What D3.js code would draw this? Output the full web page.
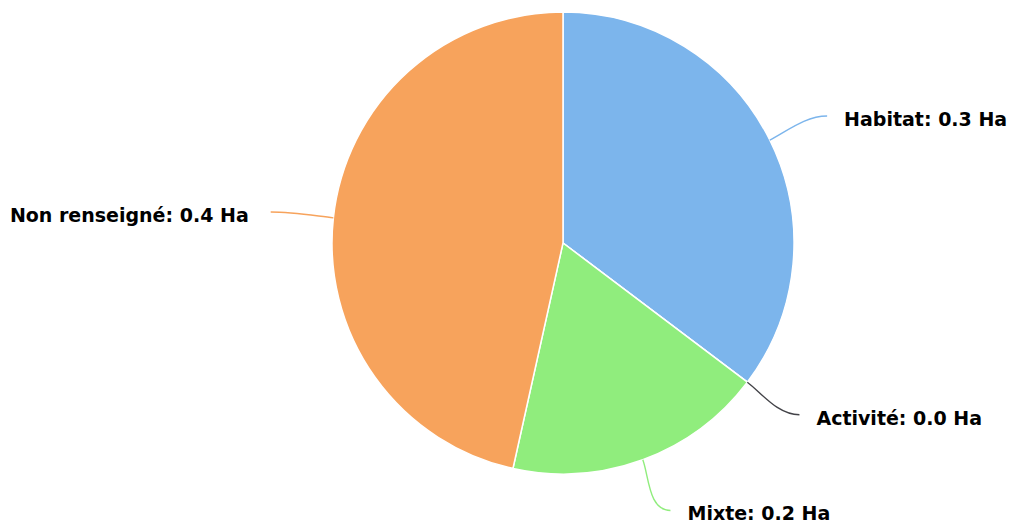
<!DOCTYPE html>
<html>
<head>
<meta charset="utf-8">
<script src="https://cdn.jsdelivr.net/npm/d3@7"></script>
<style>
  body { margin: 0; background: #fff; }
  svg { display: block; font-family: "DejaVu Sans", sans-serif; }
</style>
</head>
<body>
<svg id="chart"></svg>
<script>
const categories = ["Habitat", "Activité", "Mixte", "Non renseigné"]
const values = [0.33, 0, 0.17, 0.435]
const colours = ["#7cb5ec", "#434348", "#90ed7d", "#f7a35c"]
const unit = "Ha"

const WIDTH = 1011
const HEIGHT = 526
const CX = 563
const CY = 243
const RADIUS = 231
const LABEL_RADIUS = 285

let svg = d3.select("#chart")
  .attr("width", WIDTH)
  .attr("height", HEIGHT)

let slices = categories.map((name, i) => ({ name: name, value: values[i], colour: colours[i] }))

let pie = d3.pie()
  .sort(null)
  .value(d => d.value)

let arcs = pie(slices)

let arc = d3.arc()
  .innerRadius(0)
  .outerRadius(RADIUS)

let g = svg.append("g")
  .attr("transform", `translate(${CX}, ${CY})`)

g.selectAll("path.slice")
  .data(arcs)
  .enter()
  .append("path")
  .attr("class", "slice")
  .attr("d", arc)
  .attr("fill", d => d.data.colour)
  .attr("stroke", "#fff")
  .attr("stroke-width", 1.5)
  .attr("stroke-linejoin", "round")

// labels with soft connectors
arcs.forEach(d => {
  let a = (d.startAngle + d.endAngle) / 2
  let sx = Math.sin(a), sy = -Math.cos(a)
  let side = sx >= 0 ? 1 : -1
  let ex = RADIUS * sx, ey = RADIUS * sy
  let lx = LABEL_RADIUS * sx + side * 9
  let ly = LABEL_RADIUS * sy

  let path = d3.path()
  path.moveTo(ex, ey)
  path.bezierCurveTo(ex + sx * 18, ey + sy * 18, lx - side * 22, ly, lx, ly)

  g.append("path")
    .attr("d", path.toString())
    .attr("fill", "none")
    .attr("stroke", d.data.colour)
    .attr("stroke-width", 1.4)

  g.append("text")
    .attr("x", lx + side * (side > 0 ? 17 : 22))
    .attr("y", ly + 10)
    .attr("text-anchor", side > 0 ? "start" : "end")
    .style("font-size", "19px")
    .style("font-weight", "bold")
    .style("fill", "#000")
    .text(`${d.data.name}: ${d.data.value.toFixed(1)} ${unit}`)
})
</script>
</body>
</html>
